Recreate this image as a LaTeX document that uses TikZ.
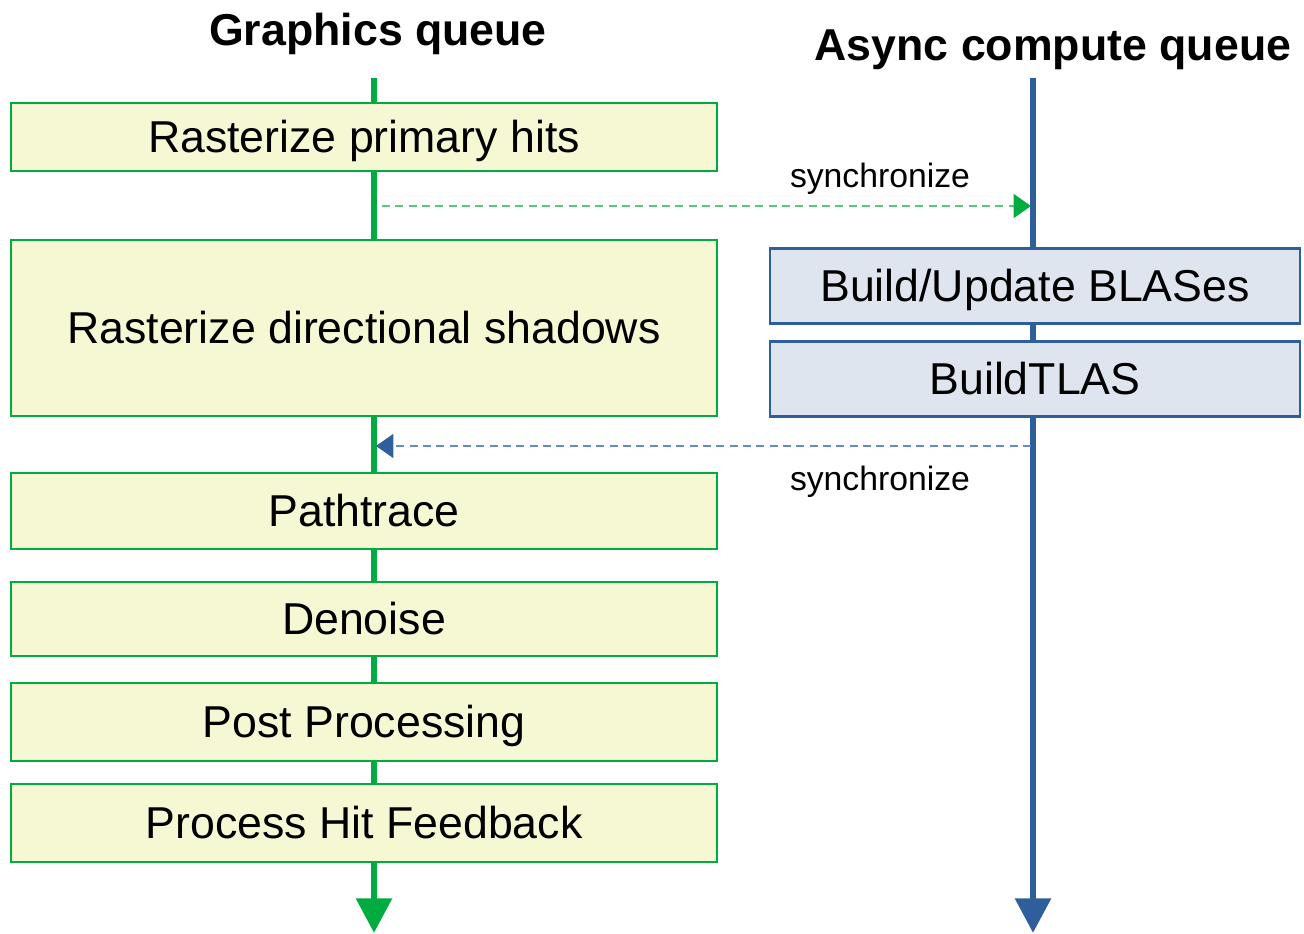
\documentclass[tikz,border=0pt]{standalone}
\usepackage{fontspec}
\setmainfont{Liberation Sans}
\usetikzlibrary{arrows.meta}
\definecolor{gq}{RGB}{0,172,64}
\definecolor{gfill}{RGB}{246,248,212}
\definecolor{bq}{RGB}{46,95,154}
\definecolor{bfill}{RGB}{222,229,239}
\definecolor{gdash}{RGB}{90,200,120}
\definecolor{bdash}{RGB}{100,140,195}
\tikzset{
  gbox/.style={draw=gq,fill=gfill,line width=2.2pt,minimum width=529.5pt,inner sep=0pt,font=\fontsize{33.5}{38}\selectfont,text height=23.1pt,text depth=0pt},
  bbox/.style={draw=bq,fill=bfill,line width=1.8pt,minimum width=397.5pt,inner sep=0pt,font=\fontsize{33.5}{38}\selectfont,text height=23.1pt,text depth=0pt},
  gline/.style={draw=gq,line width=5.2pt,-{Triangle[length=26pt,width=26pt]}},
  bline/.style={draw=bq,line width=5.2pt,-{Triangle[length=26pt,width=26pt]}},
  gsync/.style={draw=gdash,line width=0.8pt,dash pattern=on 6pt off 4pt,-{Triangle[length=13pt,width=18pt,fill=gq,color=gq]}},
  bsync/.style={draw=bdash,line width=0.8pt,dash pattern=on 6pt off 4pt,-{Triangle[length=13pt,width=18pt,fill=bq,color=bq]}},
  title/.style={font=\bfseries\fontsize{33.5}{38}\selectfont,inner sep=0pt,text height=23pt,text depth=0pt},
  synclab/.style={font=\fontsize{25.3}{30}\selectfont,inner sep=0pt,text height=17.7pt,text depth=0pt}
}
\begin{document}
\begin{tikzpicture}[x=0.75pt,y=-0.75pt]
\useasboundingbox (0,0) rectangle (1304,933);
% queue lines
\coordinate (gtop) at (374,78);
\coordinate (gbot) at (374,933);
\coordinate (btop) at (1033,78);
\coordinate (bbot) at (1033,933);
\draw[gline] (gtop) -- (gbot);
\draw[bline] (btop) -- (bbot);
% titles
\node[title] (tg) at (378,30) {Graphics queue};
\node[title] (tb) at (1053,45) {Async compute queue};
% graphics boxes
\node[gbox,minimum height=51pt] (g1) at (364,137) {Rasterize primary hits};
\node[gbox,minimum height=132pt] (g2) at (364,328) {Rasterize directional shadows};
\node[gbox,minimum height=57pt] (g3) at (364,511) {Pathtrace};
\node[gbox,minimum height=55.5pt] (g4) at (364,619) {Denoise};
\node[gbox,minimum height=58.5pt] (g5) at (364,722) {Post Processing};
\node[gbox,minimum height=58.5pt] (g6) at (364,823) {Process Hit Feedback};
% compute boxes
\node[bbox,minimum height=56pt] (b1) at (1035,286) {Build/Update BLASes};
\node[bbox,minimum height=56pt] (b2) at (1035,379) {BuildTLAS};
% sync arrows
\coordinate (s1a) at (382,206);
\coordinate (s1b) at (1031,206);
\coordinate (s2a) at (1031,446);
\coordinate (s2b) at (376,446);
\draw[gsync] (s1a) -- (s1b);
\draw[bsync] (s2a) -- (s2b);
\node[synclab] (l1) at (880,176) {synchronize};
\node[synclab] (l2) at (880,479) {synchronize};
\end{tikzpicture}
\end{document}
